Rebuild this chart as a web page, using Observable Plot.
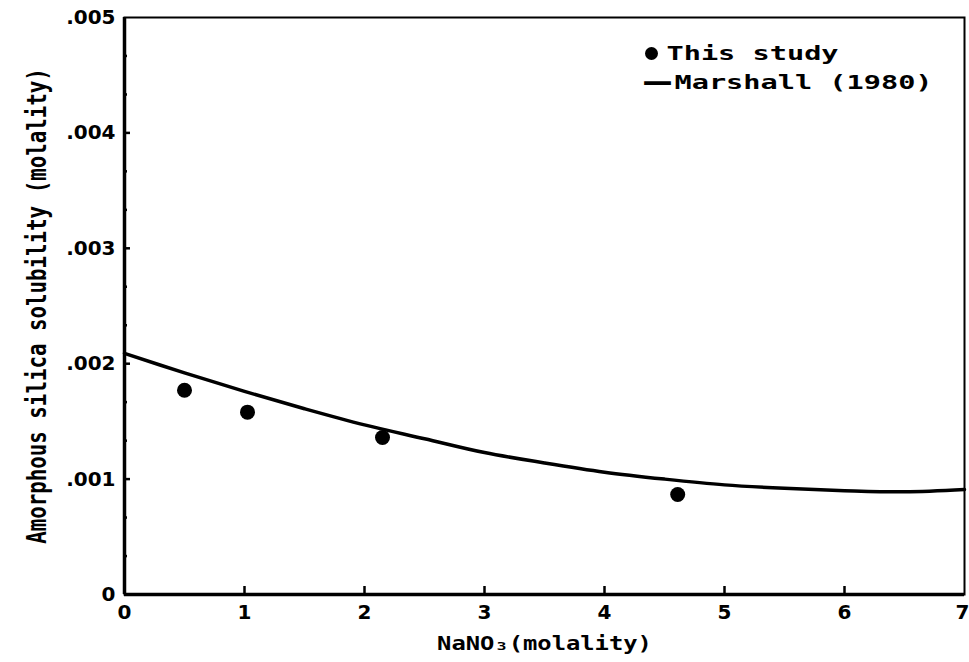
<!DOCTYPE html>
<html><head><meta charset="utf-8">
<script src="https://cdn.jsdelivr.net/npm/d3@7"></script>
<script src="https://cdn.jsdelivr.net/npm/@observablehq/plot@0.6"></script>
<style>body{margin:0;background:#fff}</style>
</head><body><div id="chart"></div>
<script>
// "This study" measurements
const studyX = [0.50, 1.025, 2.15, 4.61];
const studyY = [0.00177, 0.00158, 0.00136, 0.000867];
// Marshall (1980) curve
const marshallX = [0, 0.5, 1, 1.5, 2, 2.5, 3, 3.5, 4, 4.5, 5, 5.5, 6, 6.5, 7];
const marshallY = [0.00209, 0.00192, 0.00176, 0.00161, 0.00147, 0.00135, 0.00123, 0.00114, 0.00106, 0.00100, 0.00095, 0.00092, 0.00090, 0.00089, 0.00091];
// ticks
const xTicks = [0, 1, 2, 3, 4, 5, 6];
const xLastTick = [7];
const xTickMarks = [1, 2, 3, 4, 5, 6];
const yTicks = [0, 0.001, 0.002, 0.003, 0.004, 0.005];
const yTickLabels = ["0", ".001", ".002", ".003", ".004", ".005"];
const yMajorMarks = [0.001, 0.002, 0.003, 0.004];
const yMinorMarks = [0.000333, 0.000667, 0.001333, 0.001667, 0.002333, 0.002667, 0.003333, 0.003667, 0.004333, 0.004667];
const xTitle = "NaNO\u2083(molality)";
const yTitle = "Amorphous silica solubility (molality)";
const legendLabels = ["This study", "Marshall (1980)"];

const study = studyX.map((x, i) => ({x, y: studyY[i]}));
const marshall = marshallX.map((x, i) => ({x, y: marshallY[i]}));

const mono = "'DejaVu Sans Mono', 'Liberation Mono', monospace";
const sans = "'DejaVu Sans', 'Liberation Sans', sans-serif";

const chart = Plot.plot({
  width: 969,
  height: 662,
  marginLeft: 124,
  marginRight: 5,
  marginTop: 17,
  marginBottom: 68,
  x: {domain: [0, 7], axis: null},
  y: {domain: [0, 0.005], axis: null},
  style: {background: "#fff", color: "#000"},
  marks: [
    Plot.frame({stroke: "#000", strokeWidth: 2}),
    Plot.ruleX([0], {stroke: "#000", strokeWidth: 3.5}),
    Plot.ruleY([0], {stroke: "#000", strokeWidth: 3.5}),
    // y tick marks (inward)
    Plot.axisY({ticks: yMajorMarks, tickSize: -6, strokeWidth: 2.5, tickFormat: () => "", label: null}),
    Plot.axisY({ticks: yMinorMarks, tickSize: -3, strokeWidth: 2.5, tickFormat: () => "", label: null}),
    // y tick labels
    Plot.axisY({ticks: yTicks, tickSize: 0, tickPadding: 9, tickFormat: d => yTickLabels[yTicks.indexOf(d)],
      fontSize: 20, fontWeight: "bold", fontFamily: sans, label: null}),
    // x tick marks (inward)
    Plot.axisX({ticks: xTickMarks, tickSize: -8, strokeWidth: 2.5, tickFormat: () => "", label: null}),
    // x tick labels
    Plot.axisX({ticks: xTicks, tickSize: 0, tickPadding: 10, tickFormat: d => String(d),
      fontSize: 20, fontWeight: "bold", fontFamily: sans, label: null}),
    Plot.axisX({ticks: xLastTick, tickSize: 0, tickPadding: 10, dx: -2, tickFormat: d => String(d),
      fontSize: 20, fontWeight: "bold", fontFamily: sans, label: null}),
    // titles
    Plot.text([xTitle], {frameAnchor: "bottom", dy: 49, text: d => d, textAnchor: "middle", lineAnchor: "middle",
      fontSize: 20, fontWeight: "bold", fontFamily: mono}),
    Plot.text([yTitle], {frameAnchor: "left", dx: -87, rotate: -90, text: d => d, textAnchor: "middle", lineAnchor: "middle",
      fontSize: 20, fontWeight: "bold", fontFamily: mono}),
    // data
    Plot.line(marshall, {x: "x", y: "y", stroke: "#000", strokeWidth: 3.5, curve: "catmull-rom"}),
    Plot.dot(study, {x: "x", y: "y", r: 7.5, fill: "#000", stroke: "none"}),
    // legend
    Plot.dot([legendLabels[0]], {frameAnchor: "top-right", dx: -313, dy: 36, r: 6.5, fill: "#000", stroke: "none"}),
    Plot.text([legendLabels[0]], {frameAnchor: "top-right", dx: -298, dy: 36, text: d => d, textAnchor: "start", lineAnchor: "middle",
      fontSize: 20, fontWeight: "bold", fontFamily: mono}),
    Plot.text(["\u2014"], {frameAnchor: "top-right", dx: -322, dy: 64, text: d => d, textAnchor: "start", lineAnchor: "middle",
      fontSize: 30, fontWeight: "bold", fontFamily: sans}),
    Plot.text([legendLabels[1]], {frameAnchor: "top-right", dx: -290, dy: 65, text: d => d, textAnchor: "start", lineAnchor: "middle",
      fontSize: 20, fontWeight: "bold", fontFamily: mono})
  ]
});
// widen the lettering to imitate the plotter font (glyph scaling about each anchor)
const stretch = new Map([
  [xTitle, "scale(1.19,1)"],
  [yTitle, "scale(1.04,1.3)"],
  [legendLabels[0], "scale(1.43,1)"],
  [legendLabels[1], "scale(1.43,1)"]
]);
d3.select(chart).selectAll("text").each(function() {
  const t = this.textContent;
  if (!stretch.has(t)) return;
  let tr = this.getAttribute("transform");
  if (!tr) {
    const x = +this.getAttribute("x") || 0, y = +this.getAttribute("y") || 0;
    this.removeAttribute("x"); this.removeAttribute("y");
    tr = `translate(${x},${y})`;
  }
  this.setAttribute("transform", tr + " " + stretch.get(t));
});
document.getElementById("chart").appendChild(chart);
</script>
</body></html>
